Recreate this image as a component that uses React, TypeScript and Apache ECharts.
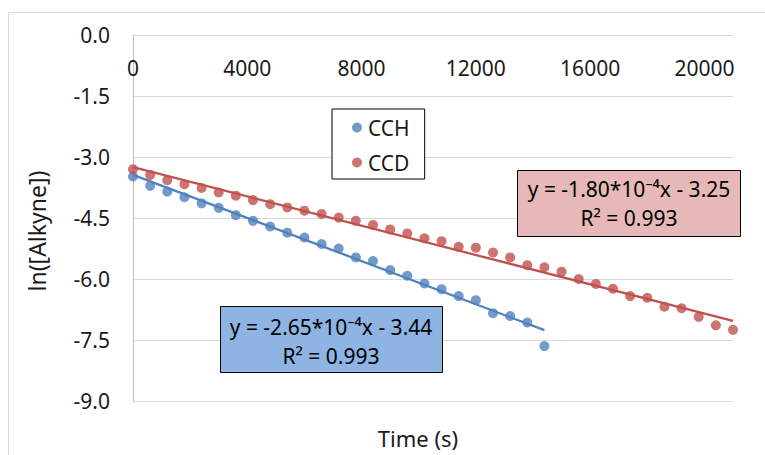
import React, { useEffect, useRef } from "react";
import * as echarts from "echarts";

const timeCCH = [0, 600, 1200, 1800, 2400, 3000, 3600, 4200, 4800, 5400, 6000, 6600, 7200, 7800, 8400, 9000, 9600, 10200, 10800, 11400, 12000, 12600, 13200, 13800, 14400];
const lnCCH = [-3.48, -3.71, -3.85, -3.99, -4.14, -4.25, -4.43, -4.57, -4.71, -4.86, -4.98, -5.14, -5.25, -5.47, -5.56, -5.78, -5.92, -6.11, -6.25, -6.42, -6.52, -6.84, -6.91, -7.07, -7.65];

const timeCCD = [0, 600, 1200, 1800, 2400, 3000, 3600, 4200, 4800, 5400, 6000, 6600, 7200, 7800, 8400, 9000, 9600, 10200, 10800, 11400, 12000, 12600, 13200, 13800, 14400, 15000, 15600, 16200, 16800, 17400, 18000, 18600, 19200, 19800, 20400, 21000];
const lnCCD = [-3.30, -3.44, -3.57, -3.67, -3.76, -3.87, -3.95, -4.06, -4.16, -4.24, -4.32, -4.40, -4.49, -4.57, -4.67, -4.78, -4.88, -5.00, -5.07, -5.21, -5.23, -5.35, -5.47, -5.66, -5.71, -5.82, -6.00, -6.12, -6.24, -6.42, -6.46, -6.68, -6.72, -6.93, -7.14, -7.25];

// Linear fits shown on the chart
const fitCCH = { slope: -2.65e-4, intercept: -3.44, xStart: 0, xEnd: 14400 };
const fitCCD = { slope: -1.8e-4, intercept: -3.25, xStart: 0, xEnd: 21000 };

const seriesNames = ["CCH", "CCD"];
const eqCCH = ["y = -2.65*10⁻⁴x - 3.44", "R² = 0.993"];
const eqCCD = ["y = -1.80*10⁻⁴x - 3.25", "R² = 0.993"];

const xTitle = "Time (s)";
const yTitle = "ln([Alkyne])";

const BLUE = "#4F81BD";
const RED = "#C0504D";
const FONT = "Noto Sans";
const TXT = "#1a1a1a";

function fitLine(f: { slope: number; intercept: number; xStart: number; xEnd: number }) {
  return [f.xStart, f.xEnd].map((x) => [x, f.slope * x + f.intercept]);
}

function eqText(x: number, y: number, text: string) {
  return {
    type: "text",
    x,
    y,
    z: 101,
    style: {
      text,
      fontFamily: FONT,
      fontSize: 21,
      lineHeight: 24,
      fill: "#000000",
      align: "center",
      verticalAlign: "middle",
    },
  };
}

function eqBox(x: number, y: number, w: number, h: number, fill: string) {
  return {
    type: "rect",
    z: 100,
    shape: { x, y, width: w, height: h },
    style: { fill, stroke: "#000000", lineWidth: 1 },
  };
}

export default function App() {
  const ref = useRef<HTMLDivElement>(null);
  useEffect(() => {
    if (!ref.current) return;
    const chart = echarts.init(ref.current, undefined, { renderer: "svg" });
    chart.setOption({
      animation: false,
      backgroundColor: "#ffffff",
      textStyle: { fontFamily: FONT },
      grid: { left: 133, top: 35, width: 600, height: 366, containLabel: false },
      legend: {
        data: seriesNames,
        orient: "vertical",
        left: 332,
        top: 109,
        backgroundColor: "#ffffff",
        borderColor: "#000000",
        borderWidth: 1,
        padding: [8, 15, 6, 20],
        itemGap: 14,
        itemWidth: 12,
        itemHeight: 10,
        icon: "circle",
        textStyle: { fontFamily: FONT, fontSize: 21, color: TXT },
      },
      xAxis: {
        type: "value",
        position: "top",
        min: 0,
        max: 21000,
        interval: 4000,
        axisLine: { show: true, lineStyle: { color: "#D9D9D9", width: 1 } },
        axisTick: { show: false },
        splitLine: { show: false },
        axisLabel: {
          inside: true,
          margin: 22,
          showMaxLabel: false,
          fontFamily: FONT,
          fontSize: 21,
          color: TXT,
          formatter: (v: number) => String(v),
        },
      },
      yAxis: {
        type: "value",
        min: -9,
        max: 0,
        interval: 1.5,
        axisLine: { show: true, lineStyle: { color: "#BFBFBF", width: 1 } },
        axisTick: { show: false },
        splitLine: { show: true, lineStyle: { color: "#D9D9D9", width: 1 } },
        axisLabel: {
          margin: 23,
          fontFamily: FONT,
          fontSize: 21,
          color: TXT,
          formatter: (v: number) => v.toFixed(1),
        },
      },
      series: [
        {
          name: "CCH fit",
          type: "line",
          data: fitLine(fitCCH),
          showSymbol: false,
          symbol: "none",
          lineStyle: { color: BLUE, width: 2.25 },
          itemStyle: { color: BLUE },
          silent: true,
          z: 2,
        },
        {
          name: "CCD fit",
          type: "line",
          data: fitLine(fitCCD),
          showSymbol: false,
          symbol: "none",
          lineStyle: { color: RED, width: 2.25 },
          itemStyle: { color: RED },
          silent: true,
          z: 2,
        },
        {
          name: "CCH",
          type: "scatter",
          data: timeCCH.map((t, i) => [t, lnCCH[i]]),
          symbol: "circle",
          symbolSize: 10,
          itemStyle: { color: BLUE },
          z: 3,
        },
        {
          name: "CCD",
          type: "scatter",
          data: timeCCD.map((t, i) => [t, lnCCD[i]]),
          symbol: "circle",
          symbolSize: 10,
          itemStyle: { color: RED },
          z: 3,
        },
      ],
      graphic: {
        elements: [
          {
            type: "rect",
            shape: { x: 8.5, y: 12.5, width: 820, height: 520 },
            style: { fill: "none", stroke: "#D9D9D9", lineWidth: 1 },
            silent: true,
            z: -10,
          },
          {
            type: "text",
            x: 37,
            y: 231,
            rotation: Math.PI / 2,
            style: {
              text: yTitle,
              fontFamily: FONT,
              fontSize: 23,
              fill: TXT,
              align: "center",
              verticalAlign: "middle",
            },
          },
          {
            type: "text",
            x: 418,
            y: 438,
            style: {
              text: xTitle,
              fontFamily: FONT,
              fontSize: 22,
              fill: TXT,
              align: "center",
              verticalAlign: "middle",
            },
          },
          eqBox(517.5, 170.5, 223, 66, "#E6B8B7"),
          eqText(629, 189, eqCCD[0]),
          eqText(629, 218, eqCCD[1]),
          eqBox(220.5, 306.5, 222, 66, "#8DB4E2"),
          eqText(331, 327, eqCCH[0]),
          eqText(331, 356, eqCCH[1]),
        ],
      },
    });
    return () => chart.dispose();
  }, []);
  return (
    <div
      ref={ref}
      style={{ position: "absolute", left: 0, top: 0, width: 765, height: 455 }}
    />
  );
}
